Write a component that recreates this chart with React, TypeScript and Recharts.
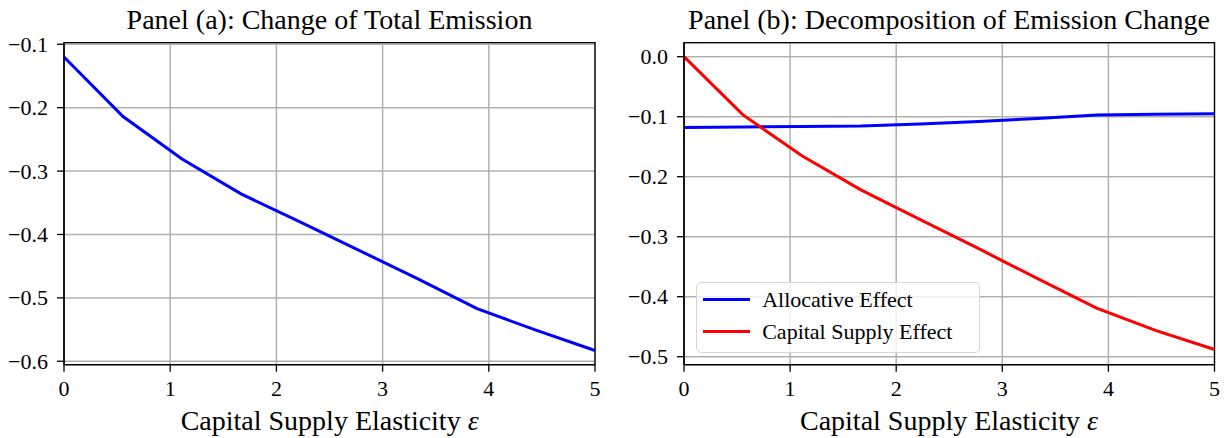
import React from 'react';
import { LineChart, Line, XAxis, YAxis, CartesianGrid, ReferenceArea } from 'recharts';

// capital supply elasticity grid (10 points)
const eps = [0, 0.556, 1.111, 1.667, 2.222, 2.778, 3.333, 3.889, 4.444, 5];

// panel (a)
const totalEmission = [-0.12, -0.214, -0.281, -0.336, -0.38, -0.425, -0.47, -0.517, -0.551, -0.583];

// panel (b)
const allocativeEffect = [-0.118, -0.117, -0.1165, -0.1155, -0.112, -0.108, -0.103, -0.097, -0.096, -0.095];
const capitalSupplyEffect = [0, -0.097, -0.165, -0.222, -0.271, -0.32, -0.37, -0.419, -0.456, -0.488];

const seriesB = [
  { key: 'alloc', name: 'Allocative Effect', color: '#0000ff' },
  { key: 'cap', name: 'Capital Supply Effect', color: '#ff0000' },
];

const xTicks = [0, 1, 2, 3, 4, 5];
const yTicksA = [-0.6, -0.5, -0.4, -0.3, -0.2, -0.1];
const yTicksB = [-0.5, -0.4, -0.3, -0.2, -0.1, 0.0];

const domainA: [number, number] = [-0.6054, -0.0975];
const domainB: [number, number] = [-0.5133, 0.0233];

const FONT = '"Liberation Serif", "DejaVu Serif", serif';
const fmt = (v: number) => v.toFixed(1).replace('-', '\u2212');

const dataA = eps.map((x, i) => ({ x, total: totalEmission[i] }));
const dataB = eps.map((x, i) => ({ x, alloc: allocativeEffect[i], cap: capitalSupplyEffect[i] }));

const XTick = ({ x, y, payload }: any) => (
  <text x={x} y={y} dy={15.5} textAnchor="middle" fontFamily={FONT} fontSize={22} fill="#000">
    {payload.value}
  </text>
);

const YTick = ({ x, y, payload }: any) => (
  <text x={x} y={y} dy={7.5} textAnchor="end" fontFamily={FONT} fontSize={22} fill="#000">
    {fmt(payload.value)}
  </text>
);

function axesBits(ticksY: number[], domainY: [number, number]) {
  return [
    <CartesianGrid key="g" stroke="#b0b0b0" strokeWidth={1.5} />,
    <XAxis
      key="x"
      dataKey="x"
      type="number"
      domain={[0, 5]}
      ticks={xTicks}
      height={73.3}
      tick={<XTick />}
      tickSize={7}
      tickMargin={9}
      axisLine={{ stroke: '#000', strokeWidth: 1.3 }}
      tickLine={{ stroke: '#000', strokeWidth: 1.3 }}
    />,
    <YAxis
      key="y"
      type="number"
      domain={domainY}
      allowDataOverflow
      ticks={ticksY}
      width={64}
      tick={<YTick />}
      tickSize={7}
      tickMargin={9}
      axisLine={{ stroke: '#000', strokeWidth: 1.3 }}
      tickLine={{ stroke: '#000', strokeWidth: 1.3 }}
    />,
  ];
}

export default function App() {
  return (
    <div style={{ position: 'absolute', left: 0, top: 0, width: 1228, height: 438, background: '#fff' }}>
      <div style={{ position: 'absolute', left: 0, top: 0 }}>
        <LineChart width={620} height={438} data={dataA} margin={{ top: 42.7, right: 25, left: 0, bottom: 0 }}>
          {axesBits(yTicksA, domainA)}
          <Line type="linear" dataKey="total" stroke="#0000ff" strokeWidth={3} dot={false} isAnimationActive={false} />
          <ReferenceArea x1={0} x2={5} y1={domainA[0]} y2={domainA[1]} fill="none" stroke="#000" strokeWidth={1.3} ifOverflow="visible" />
        </LineChart>
      </div>
      <div style={{ position: 'absolute', left: 620, top: 0 }}>
        <LineChart width={608} height={438} data={dataB} margin={{ top: 42.7, right: 13.5, left: 0, bottom: 0 }}>
          {axesBits(yTicksB, domainB)}
          {seriesB.map((s) => (
            <Line key={s.key} type="linear" dataKey={s.key} name={s.name} stroke={s.color} strokeWidth={3} dot={false} isAnimationActive={false} />
          ))}
          <ReferenceArea x1={0} x2={5} y1={domainB[0]} y2={domainB[1]} fill="none" stroke="#000" strokeWidth={1.3} ifOverflow="visible" />
        </LineChart>
      </div>
      {/* legend for panel (b) */}
      <div
        style={{
          position: 'absolute',
          left: 695.7,
          top: 281.7,
          width: 284,
          height: 71.6,
          boxSizing: 'border-box',
          background: 'rgba(255,255,255,0.8)',
          border: '1.3px solid #d6d6d6',
          borderRadius: 5,
          paddingTop: 1,
          fontFamily: FONT,
          fontSize: 22,
          color: '#000',
        }}
      >
        {seriesB.map((s) => (
          <div key={s.key} style={{ display: 'flex', alignItems: 'center', height: 32 }}>
            <div style={{ marginLeft: 6.5, width: 47, height: 3, background: s.color }} />
            <span style={{ marginLeft: 12 }}>{s.name}</span>
          </div>
        ))}
      </div>
      <svg width={1228} height={438} style={{ position: 'absolute', left: 0, top: 0, pointerEvents: 'none' }}>
        <g fontFamily={FONT} fontSize={28} fill="#000" textAnchor="middle">
          <text x={329.5} y={29.3}>Panel (a): Change of Total Emission</text>
          <text x={949} y={29.3}>Panel (b): Decomposition of Emission Change</text>
          <text x={329.7} y={430}>
            Capital Supply Elasticity <tspan fontStyle="italic">ε</tspan>
          </text>
          <text x={949} y={430}>
            Capital Supply Elasticity <tspan fontStyle="italic">ε</tspan>
          </text>
        </g>
      </svg>
    </div>
  );
}
